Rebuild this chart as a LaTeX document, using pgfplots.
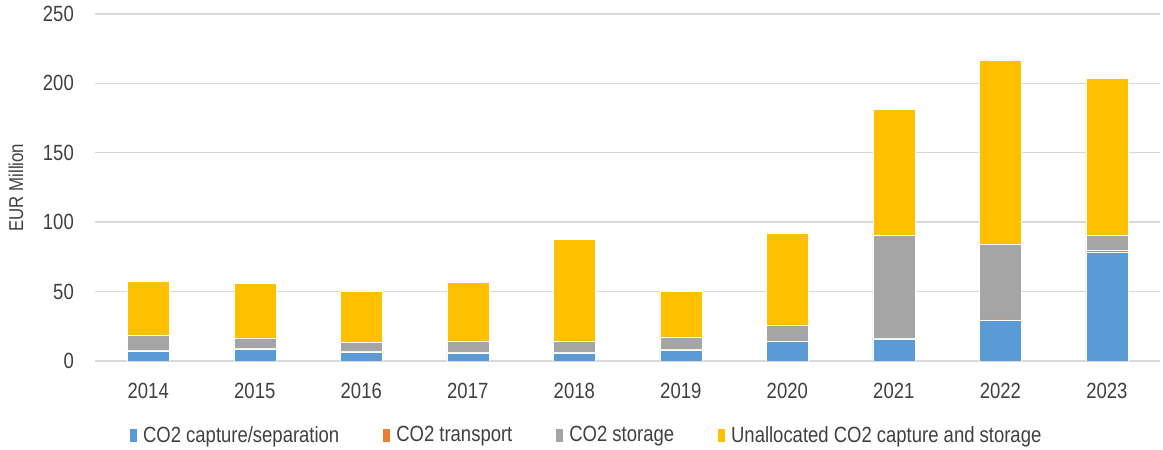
\documentclass[border=0pt]{standalone}
\usepackage{fontspec}
\setmainfont[FakeStretch=0.84]{Liberation Sans}
\usepackage{pgfplots}
\pgfplotsset{compat=1.18}
\definecolor{cblue}{HTML}{5B9BD5}
\definecolor{corange}{HTML}{ED7D31}
\definecolor{cgray}{HTML}{A5A5A5}
\definecolor{cyellow}{HTML}{FFC000}
\definecolor{txt}{HTML}{404040}
\definecolor{grid}{HTML}{D9D9D9}
\begin{document}
\begin{tikzpicture}
\useasboundingbox (0,0) rectangle (1163pt,450pt);
\begin{axis}[
  at={(95pt,89pt)}, anchor=south west,
  scale only axis, width=1065pt, height=347pt,
  ybar stacked, bar width=42pt,
  xmin=-0.5, xmax=9.5, ymin=0, ymax=250,
  xtick=data,
  xticklabels={2014,2015,2016,2017,2018,2019,2020,2021,2022,2023},
  ytick={0,50,100,150,200,250},
  /pgf/number format/assume math mode=true,
  ymajorgrids, grid style={color=grid, line width=1.4pt},
  axis line style={draw=none},
  major tick length=0pt,
  tick label style={font=\fontsize{22}{26}\selectfont, text=txt},
  yticklabel style={anchor=east, inner sep=0pt, xshift=-21pt},
  xticklabel style={anchor=north, inner sep=0pt, yshift=-22pt},
  ylabel={EUR Million},
  ylabel style={at={(axis description cs:-0.0742,0.5)}, anchor=center, font=\fontsize{20}{24}\selectfont, text=txt},
  legend style={at={(0.461,-0.2133)}, anchor=center, draw=none, fill=none,
    font=\fontsize{22}{26}\selectfont, text=txt, legend columns=4,
    /tikz/every even column/.append style={column sep=40.5pt},
    /tikz/every odd column/.append style={column sep=4pt}},
  legend image code/.code={\fill[#1] (0pt,-7pt) rectangle (8pt,7pt);},
  every axis plot/.append style={draw=white, line width=0.5pt},
]
\addplot[fill=cblue] coordinates {(0,7.3) (1,8.8) (2,6.6) (3,5.9) (4,5.9) (5,8.1) (6,13.9) (7,16.0) (8,29.1) (9,78.4)};
\addplot[fill=corange] coordinates {(0,0.2) (1,0.2) (2,0.4) (3,0.2) (4,0.5) (5,0.2) (6,0.2) (7,0.2) (8,0.6) (9,1.2)};
\addplot[fill=cgray] coordinates {(0,10.9) (1,7.7) (2,6.3) (3,8.4) (4,7.9) (5,9.1) (6,11.3) (7,74.2) (8,54.6) (9,11.3)};
\addplot[fill=cyellow] coordinates {(0,39.4) (1,39.3) (2,37.2) (3,42.5) (4,73.2) (5,32.6) (6,66.9) (7,91.1) (8,132.6) (9,112.7)};
\legend{CO2 capture/separation, CO2 transport, CO2 storage, Unallocated CO2 capture and storage}
\end{axis}
\end{tikzpicture}
\end{document}
